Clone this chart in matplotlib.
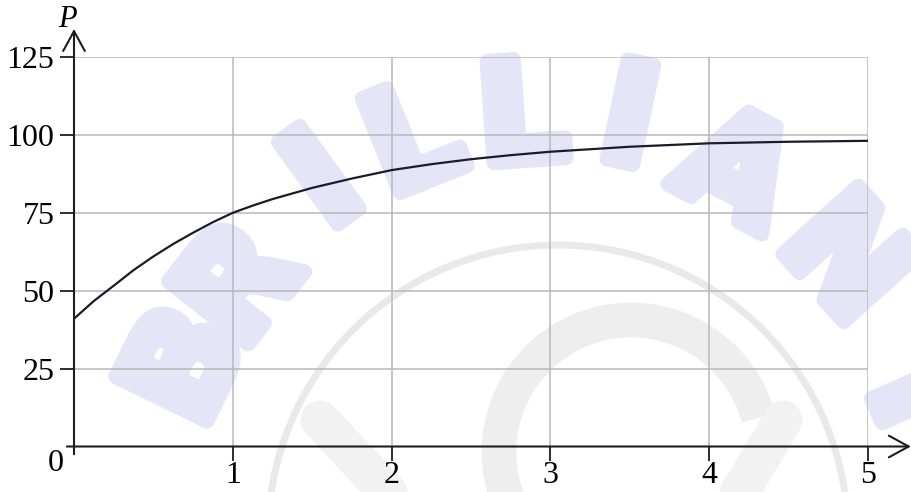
import numpy as np
import matplotlib
matplotlib.use('Agg')
import matplotlib.pyplot as plt
import matplotlib.patheffects as pe
from matplotlib.patches import Arc

# values
t_vals = [0, 0.125, 0.25, 0.375, 0.5, 0.625, 0.75, 0.875, 1, 1.125, 1.25, 1.5,
          1.75, 2, 2.25, 2.5, 2.75, 3, 3.5, 4, 4.5, 5]
p_vals = [41, 46.7, 51.6, 56.6, 61, 65, 68.6, 72, 75, 77.3, 79.4, 83,
          86, 88.7, 90.6, 92.2, 93.5, 94.6, 96.2, 97.3, 97.8, 98.1]

x_ticks = [1, 2, 3, 4, 5]
y_ticks = [25, 50, 75, 100, 125]

# watermark letters (pixel centre x, y, rotation)
wm_letters = ['B', 'R', 'I', 'L', 'L', 'I', 'A', 'N', 'T']
wm_x = [190, 243, 326, 415, 523, 628, 733, 842, 912]
wm_y = [368, 288, 185, 145, 122, 124, 175, 262, 395]
wm_rot = [64, 52, 36, 22, 4, -12, -28, -48, -66]

W, H = 911, 492
fig = plt.figure(figsize=(W / 100, H / 100), dpi=100)
fig.patch.set_facecolor('white')

# background layer for the watermark, in pixel coords
bg = fig.add_axes([0, 0, 1, 1], zorder=0)
bg.set_xlim(0, W)
bg.set_ylim(H, 0)
bg.axis('off')

wm_blue = '#e4e6f8'
for ch, x, y, r in zip(wm_letters, wm_x, wm_y, wm_rot):
    bg.text(x, y, ch, fontsize=100, fontweight='bold', family='DejaVu Sans',
            color=wm_blue, ha='center', va='center', rotation=r,
            rotation_mode='anchor',
            path_effects=[pe.withStroke(linewidth=11, foreground=wm_blue)])

bg.add_patch(Arc((558, 535), 580, 580, theta1=180, theta2=360,
                 color='#e9e9e9', lw=5))
bg.add_patch(Arc((631, 452), 264, 264, theta1=110, theta2=345,
                 color='#eeeeee', lw=25))
bg.plot([320, 395], [420, 500], color='#f2f2f2', lw=28, solid_capstyle='round')
bg.plot([783, 735], [420, 500], color='#f2f2f2', lw=28, solid_capstyle='round')

# main axes
ax = fig.add_axes([74 / W, (H - 446.5) / H, 794 / W, 389.5 / H], zorder=1)
ax.set_facecolor('none')
ax.set_xlim(0, 5)
ax.set_ylim(0, 125)
for s in ax.spines.values():
    s.set_visible(False)

grid_c = '#b8b8b8'
for x in x_ticks:
    ax.plot([x, x], [0, 125], color=grid_c, lw=1.1, zorder=1)
for y in y_ticks:
    ax.plot([0, 5], [y, y], color=grid_c, lw=1.1, zorder=1)

ax.plot(t_vals, p_vals, color='#1b1b2b', lw=1.6, zorder=3)

axis_c = '#1e1e1e'
arrow = dict(arrowstyle='->,head_length=0.55,head_width=0.3', lw=1.5,
             color=axis_c, shrinkA=0, shrinkB=0, mutation_scale=26)
ax.annotate('', xy=(5.27, 0), xytext=(-0.045, 0), arrowprops=arrow,
            annotation_clip=False, zorder=4)
ax.annotate('', xy=(0, 134), xytext=(0, -2.5), arrowprops=arrow,
            annotation_clip=False, zorder=4)

serif = 'Liberation Serif'
ax.set_xticks(x_ticks)
ax.set_yticks(y_ticks)
ax.set_xticklabels([str(v) for v in x_ticks], family=serif, fontsize=23)
ax.set_yticklabels([str(v) for v in y_ticks], family=serif, fontsize=23)
ax.tick_params(axis='x', direction='in', length=10, width=1.3, color=axis_c,
               pad=10.5)
ax.tick_params(axis='y', direction='out', length=10, width=1.3, color=axis_c,
               pad=4)
# x ticks point down from the axis
for tl in ax.xaxis.get_ticklines():
    tl.set_marker(3)
    tl.set_markersize(10)
    tl.set_markeredgewidth(1.3)

ax.text(-0.115, -5.5, '0', family=serif, fontsize=23, ha='center', va='center',
        clip_on=False)
ax.text(-0.04, 137, 'P', family=serif, fontsize=22, style='italic',
        ha='center', va='center', clip_on=False)

fig.savefig('out.png', dpi=100)
